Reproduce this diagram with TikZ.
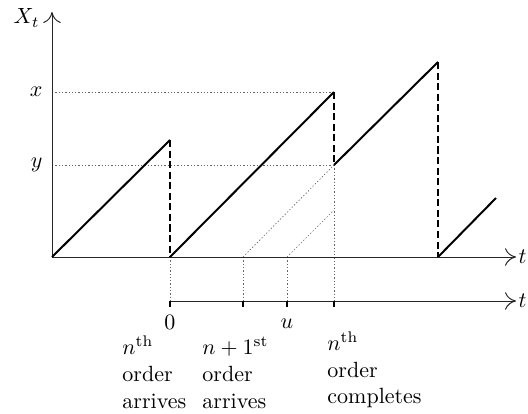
\documentclass[tikz,border=0pt]{standalone}
\usetikzlibrary{arrows.meta}
\begin{document}
\begin{tikzpicture}[x=0.4545pt,y=-0.4545pt,
  axis/.style={line width=0.45pt,black!85,-{To[length=5pt,width=8pt]}},
  ramp/.style={line width=0.9pt,black},
  drop/.style={line width=0.9pt,black,dash pattern=on 3.2pt off 1.6pt},
  guide/.style={line width=0.3pt,black!60,dash pattern=on 0.6pt off 0.9pt},
  tickmark/.style={line width=0.7pt,black},
  lbl/.style={inner sep=0pt,anchor=base west}]
\useasboundingbox (0,0) rectangle (528,414);
% key points
\coordinate (O) at (52,257);
\coordinate (Ytop) at (52,12);
\coordinate (Xend) at (516,257);
\coordinate (A1) at (170,140);
\coordinate (B1) at (170,257);
\coordinate (A2) at (334,92);
\coordinate (B2) at (334,165);
\coordinate (A3) at (438,62);
\coordinate (B3) at (438,257);
\coordinate (E4) at (496,198);
\coordinate (Lx) at (52,92);
\coordinate (Ly) at (52,165);
\coordinate (D1) at (243,257);
\coordinate (D2) at (287,257);
\coordinate (D2e) at (334,210);
% second axis
\coordinate (S0) at (170,301);
\coordinate (S1) at (243,301);
\coordinate (S2) at (287,301);
\coordinate (S3) at (334,301);
\coordinate (Send) at (516,301);
% guides
\draw[guide] (Lx) -- (A2);
\draw[guide] (Ly) -- (B2);
\draw[guide] (D1) -- (B2);
\draw[guide] (D2) -- (D2e);
\draw[guide] (B1) -- (S0);
\draw[guide] (D1) -- (S1);
\draw[guide] (D2) -- (S2);
\draw[guide] (B2) -- (S3);
% axes
\draw[axis] (O) -- (Ytop);
\draw[axis] (O) -- (Xend);
\draw[axis] (S0) -- (Send);
\node[anchor=east,inner sep=0pt] (Xt) at (40,18) {$X_t$};
\node[anchor=west,inner sep=1pt] (t1) at (Xend) {$t$};
\node[anchor=west,inner sep=1pt] (t2) at (Send) {$t$};
\node[anchor=east,inner sep=0pt] (xl) at (43,92) {$x$};
\node[anchor=east,inner sep=0pt] (yl) at (43,165) {$y$};
% path
\draw[ramp] (O) -- (A1);
\draw[drop] (A1) -- (B1);
\draw[ramp] (B1) -- (A2);
\draw[drop] (A2) -- (B2);
\draw[ramp] (B2) -- (A3);
\draw[drop] (A3) -- (B3);
\draw[ramp] (B3) -- (E4);
% ticks
\foreach \p in {S0,S1,S2,S3} \draw[tickmark] (\p) -- ++(0,6);
\node[anchor=base,inner sep=0pt] (zero) at (170,329) {$0$};
\node[anchor=base,inner sep=0pt] (ul) at (287,328) {$u$};
% texts
\node[lbl] (a1) at (122,354) {$n^{\mathrm{th}}$};
\node[lbl] (a2) at (122,381) {order};
\node[lbl] (a3) at (122,408) {arrives};
\node[lbl] (b1) at (202,354) {$n+1^{\mathrm{st}}$};
\node[lbl] (b2) at (202,381) {order};
\node[lbl] (b3) at (202,408) {arrives};
\node[lbl] (c1) at (327,350) {$n^{\mathrm{th}}$};
\node[lbl] (c2) at (327,377) {order};
\node[lbl] (c3) at (327,403) {completes};
\end{tikzpicture}
\end{document}
